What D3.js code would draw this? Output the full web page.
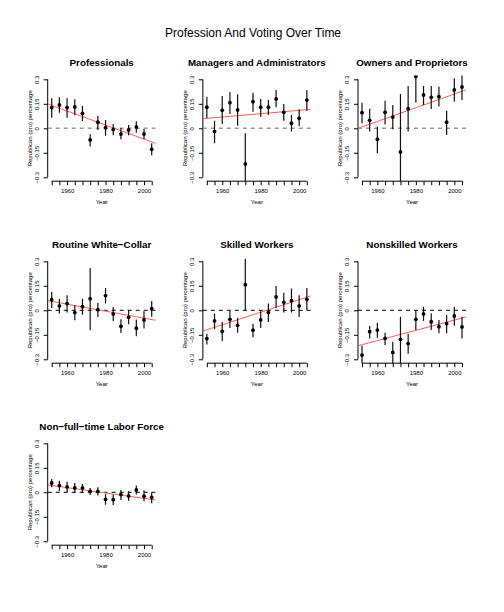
<!DOCTYPE html>
<html><head><meta charset="utf-8">
<script src="https://cdn.jsdelivr.net/npm/d3@7"></script>
<style>body{margin:0;background:#fff}svg{display:block}</style>
</head><body>
<script>
const years = [1952,1956,1960,1964,1968,1972,1976,1980,1984,1988,1992,1996,2000,2004];
const yTicks = [-0.3,-0.15,0,0.15,0.3];
const yTickLabels = ["\u22120.3","\u22120.15","0","0.15","0.3"];
const xLabelYears = [1960,1980,2000];
const panelTitles = ["Professionals","Managers and Administrators","Owners and Proprietors","Routine White\u2212Collar","Skilled Workers","Nonskilled Workers","Non\u2212full\u2212time Labor Force"];

const professionalsEst = [0.127,0.143,0.127,0.131,0.092,-0.071,0.037,0.004,-0.008,-0.035,-0.010,0.008,-0.035,-0.129];
const professionalsLo  = [0.065,0.096,0.065,0.080,0.045,-0.112,-0.010,-0.045,-0.043,-0.067,-0.043,-0.027,-0.067,-0.165];
const professionalsHi  = [0.184,0.190,0.184,0.178,0.137,-0.037,0.076,0.051,0.027,0.002,0.020,0.043,-0.004,-0.092];

const managersEst = [0.129,-0.020,0.110,0.157,0.112,-0.218,0.163,0.129,0.129,0.180,0.098,0.031,0.061,0.173];
const managersLo  = [0.063,-0.092,0.027,0.088,0.016,-0.420,0.102,0.071,0.082,0.129,0.047,-0.020,0.014,0.108];
const managersHi  = [0.194,0.047,0.198,0.222,0.208,-0.031,0.218,0.180,0.173,0.235,0.149,0.082,0.116,0.235];

const ownersEst = [0.096,0.049,-0.067,0.098,0.069,-0.145,0.120,0.318,0.204,0.190,0.194,0.037,0.235,0.253];
const ownersLo  = [0.031,-0.020,-0.153,0.024,-0.006,-0.500,-0.020,0.157,0.143,0.118,0.133,-0.041,0.163,0.173];
const ownersHi  = [0.157,0.120,0.010,0.169,0.143,0.210,0.259,0.480,0.259,0.259,0.255,0.108,0.306,0.330];

const routineEst = [0.065,0.027,0.041,-0.014,0.022,0.071,0.004,0.090,-0.022,-0.098,-0.043,-0.110,-0.059,0.010];
const routineLo  = [0.014,-0.020,-0.014,-0.061,-0.027,-0.122,-0.041,0.041,-0.065,-0.139,-0.086,-0.159,-0.112,-0.039];
const routineHi  = [0.112,0.071,0.092,0.031,0.071,0.259,0.045,0.137,0.020,-0.055,0.000,-0.057,-0.006,0.057];

const skilledEst = [-0.173,-0.065,-0.129,-0.055,-0.092,0.157,-0.122,-0.059,-0.014,0.082,0.049,0.059,0.027,0.067];
const skilledLo  = [-0.210,-0.116,-0.190,-0.108,-0.137,0.000,-0.165,-0.108,-0.071,0.014,-0.014,-0.014,-0.041,0.000];
const skilledHi  = [-0.143,-0.020,-0.071,-0.004,-0.045,0.316,-0.082,-0.006,0.041,0.149,0.108,0.133,0.092,0.137];

const nonskilledEst = [-0.274,-0.131,-0.121,-0.172,-0.258,-0.178,-0.204,-0.055,-0.022,-0.070,-0.100,-0.082,-0.035,-0.102];
const nonskilledLo  = [-0.340,-0.172,-0.168,-0.213,-0.340,-0.400,-0.266,-0.121,-0.065,-0.121,-0.141,-0.141,-0.094,-0.172];
const nonskilledHi  = [-0.217,-0.096,-0.076,-0.137,-0.192,-0.039,-0.143,0.002,0.022,-0.018,-0.059,-0.029,0.022,-0.039];

const nonfulltimeEst = [0.057,0.041,0.033,0.027,0.027,0.006,0.006,-0.043,-0.045,-0.014,-0.022,0.014,-0.024,-0.031];
const nonfulltimeLo  = [0.031,0.006,0.000,-0.004,-0.004,-0.016,-0.020,-0.076,-0.078,-0.047,-0.051,-0.014,-0.055,-0.067];
const nonfulltimeHi  = [0.082,0.071,0.065,0.057,0.051,0.027,0.031,-0.010,-0.014,0.014,0.006,0.041,0.012,0.000];

const trendYears = [1950, 2006];
const trendStart = [0.149, 0.059, 0.000, 0.059, -0.127, -0.217, 0.045];
const trendEnd   = [-0.092, 0.116, 0.235, -0.061, 0.088, -0.041, -0.047];

const panels = [
  [professionalsEst, professionalsLo, professionalsHi],
  [managersEst, managersLo, managersHi],
  [ownersEst, ownersLo, ownersHi],
  [routineEst, routineLo, routineHi],
  [skilledEst, skilledLo, skilledHi],
  [nonskilledEst, nonskilledLo, nonskilledHi],
  [nonfulltimeEst, nonfulltimeLo, nonfulltimeHi]
];

const W = 504, H = 612;
const font = "'Liberation Sans', Arial, Helvetica, sans-serif";
const svg = d3.select("body").append("svg").attr("width", W).attr("height", H)
  .style("font-family", font);
svg.append("rect").attr("width", W).attr("height", H).attr("fill", "#fff");

svg.append("text").attr("x", 253).attr("y", 37).attr("text-anchor", "middle")
  .attr("font-size", 12).attr("fill", "#000").text("Profession And Voting Over Time");

const left0 = 47.7, colStep = 155.15, top0 = 75.4, rowStep = 182;
const pw = 108, ph = 105.8;
const xPad = (years[years.length-1] - years[0]) * 0.04;
const yPad = 0.6 * 0.04;

panels.forEach((p, i) => {
  const col = i % 3, row = Math.floor(i / 3);
  const L = left0 + col * colStep, T = top0 + row * rowStep;
  const x = d3.scaleLinear().domain([years[0] - xPad, years[years.length-1] + xPad]).range([L, L + pw]);
  const y = d3.scaleLinear().domain([-0.3 - yPad, 0.3 + yPad]).range([T + ph, T]);
  const g = svg.append("g");
  const clipId = "clip" + i;
  svg.append("clipPath").attr("id", clipId).append("rect")
    .attr("x", L).attr("y", T).attr("width", pw).attr("height", ph);

  // title
  g.append("text").attr("x", L + pw/2).attr("y", T - 9.6).attr("text-anchor", "middle")
    .attr("font-size", 9.8).attr("font-weight", "bold").text(panelTitles[i]);

  // y axis
  const ya = g.append("g").attr("transform", `translate(${L},0)`)
    .call(d3.axisLeft(y).tickValues(yTicks).tickSize(4).tickFormat((d, k) => yTickLabels[k]));
  ya.select(".domain").remove();
  ya.selectAll("line").attr("stroke", "#000");
  ya.append("line").attr("x1", 0).attr("x2", 0).attr("y1", y(-0.3)).attr("y2", y(0.3)).attr("stroke", "#000");
  ya.selectAll("text").attr("x", 0).attr("y", -8.8).attr("dy", 0)
    .attr("transform", "rotate(-90)").attr("text-anchor", "middle")
    .attr("font-size", 6).attr("font-family", font).attr("fill", "#000");

  // x axis
  const xa = g.append("g").attr("transform", `translate(0,${T + ph})`)
    .call(d3.axisBottom(x).tickValues(years).tickSize(4)
      .tickFormat(d => xLabelYears.includes(d) ? String(d) : ""));
  xa.select(".domain").remove();
  xa.selectAll("line").attr("stroke", "#000");
  xa.append("line").attr("x1", x(years[0])).attr("x2", x(years[years.length-1]))
    .attr("y1", 0).attr("y2", 0).attr("stroke", "#000");
  xa.selectAll("text").attr("y", 12.2).attr("dy", 0)
    .attr("font-size", 6).attr("font-family", font).attr("fill", "#000");

  g.append("text").attr("x", L + pw/2).attr("y", T + ph + 23).attr("text-anchor", "middle")
    .attr("font-size", 6).text("Year");
  g.append("text").attr("transform", `translate(${L - 15.7},${T + ph/2}) rotate(-90)`)
    .attr("text-anchor", "middle").attr("font-size", 6).text("Republican (pro) percentage");

  const pg = g.append("g").attr("clip-path", `url(#${clipId})`);
  // zero line
  pg.append("line").attr("x1", L).attr("x2", L + pw).attr("y1", y(0)).attr("y2", y(0))
    .attr("stroke", row === 0 ? "#9a9a9a" : "#000")
    .attr("stroke-width", row === 0 ? 1.6 : 1)
    .attr("stroke-dasharray", "4,4");

  // trend line (extended across plot region)
  const slope = (trendEnd[i] - trendStart[i]) / (trendYears[1] - trendYears[0]);
  const x0 = x.domain()[0], x1 = x.domain()[1];
  pg.append("line")
    .attr("x1", x(x0)).attr("y1", y(trendStart[i] + slope * (x0 - trendYears[0])))
    .attr("x2", x(x1)).attr("y2", y(trendStart[i] + slope * (x1 - trendYears[0])))
    .attr("stroke", "#ff5c5c").attr("stroke-width", 1);

  const [est, lo, hi] = p;
  pg.selectAll(".eb").data(years).enter().append("line")
    .attr("x1", d => x(d)).attr("x2", d => x(d))
    .attr("y1", (d, k) => y(lo[k])).attr("y2", (d, k) => y(hi[k]))
    .attr("stroke", "#111").attr("stroke-width", 1.2);
  pg.selectAll(".pt").data(years).enter().append("circle")
    .attr("cx", d => x(d)).attr("cy", (d, k) => y(est[k])).attr("r", 1.9)
    .attr("fill", "#000");
});
</script>
</body></html>
